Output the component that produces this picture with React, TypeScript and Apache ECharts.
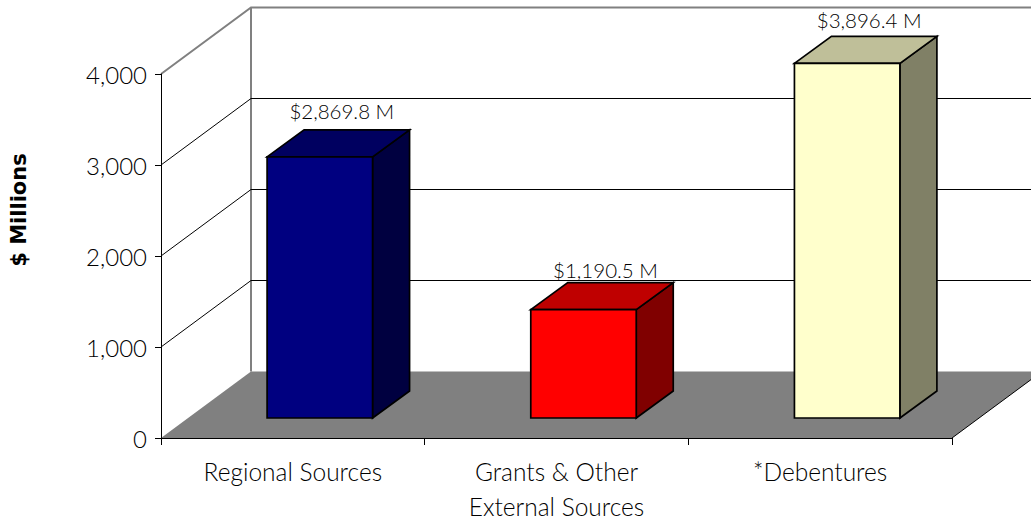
import React, { useEffect, useRef } from "react";
import * as echarts from "echarts";

const categories = ["Regional Sources", "Grants & Other\nExternal Sources", "*Debentures"];
const values = [2869.8, 1190.5, 3896.4];
const barLabels = ["$2,869.8 M", "$1,190.5 M", "$3,896.4 M"];
const frontColors = ["#000080", "#FF0000", "#FFFFCC"];
const topColors = ["#000060", "#BF0000", "#BFBF99"];
const sideColors = ["#000040", "#800000", "#808066"];
const labelLift = [19, 13, 16];
const wallTicks = [0, 1000, 2000, 3000, 4000];

const FONT = "Lato";
const DEPTH_X = 90;
const DEPTH_Y = 66.5;
const BAR_DX = 27;
const BAR_DY = 20;
const BAR_DEPTH_X = 37;
const BAR_DEPTH_Y = 27;
const BAR_RATIO = 0.4;

function renderWall(params: any, api: any) {
  const sys = params.coordSys;
  const left = sys.x;
  const right = sys.x + sys.width;
  const v = api.value(0);
  const y = api.coord([0, v])[1];
  const grey = "#808080";
  if (v === 0) {
    const y4000 = api.coord([0, 4000])[1];
    return {
      type: "group",
      children: [
        {
          type: "polygon",
          shape: { points: [[left, y], [left + DEPTH_X, y - DEPTH_Y], [right + DEPTH_X, y - DEPTH_Y], [right, y]] },
          style: { fill: grey, stroke: "none" },
        },
        {
          type: "line",
          shape: { x1: right, y1: y, x2: right + DEPTH_X, y2: y - DEPTH_Y },
          style: { stroke: "#000", lineWidth: 1 },
        },
        {
          type: "line",
          shape: { x1: left + DEPTH_X, y1: y - DEPTH_Y, x2: left + DEPTH_X, y2: y4000 - DEPTH_Y },
          style: { stroke: grey, lineWidth: 2 },
        },
      ],
    };
  }
  const isTop = v === 4000;
  return {
    type: "polyline",
    shape: { points: [[left, y], [left + DEPTH_X, y - DEPTH_Y], [right + DEPTH_X, y - DEPTH_Y]] },
    style: { stroke: isTop ? grey : "#000", lineWidth: isTop ? 2 : 1, fill: "none" },
  };
}

function renderBar(params: any, api: any) {
  const i = params.dataIndex;
  const v = api.value(1);
  const base = api.coord([i, 0]);
  const top = api.coord([i, v]);
  const w = api.size([1, 0])[0] * BAR_RATIO;
  const x0 = base[0] + BAR_DX - w / 2;
  const x1 = x0 + w;
  const yb = base[1] - BAR_DY;
  const yt = top[1] - BAR_DY;
  const dx = BAR_DEPTH_X;
  const dy = BAR_DEPTH_Y;
  const edge = { stroke: "#000", lineWidth: 1.7, lineJoin: "miter" };
  return {
    type: "group",
    children: [
      {
        type: "polygon",
        shape: { points: [[x1, yt], [x1 + dx, yt - dy], [x1 + dx, yb - dy], [x1, yb]] },
        style: { fill: sideColors[i], ...edge },
      },
      {
        type: "polygon",
        shape: { points: [[x0, yt], [x0 + dx, yt - dy], [x1 + dx, yt - dy], [x1, yt]] },
        style: { fill: topColors[i], ...edge },
      },
      {
        type: "polygon",
        shape: { points: [[x0, yt], [x1, yt], [x1, yb], [x0, yb]] },
        style: { fill: frontColors[i], ...edge },
      },
      {
        type: "text",
        style: {
          text: barLabels[i],
          x: (x0 + x1) / 2 + 22,
          y: yt - dy - labelLift[i],
          align: "center",
          verticalAlign: "middle",
          fontFamily: FONT,
          fontWeight: 300,
          fontSize: 20.5,
          fill: "#000",
        },
      },
    ],
  };
}

export default function App() {
  const ref = useRef<HTMLDivElement>(null);
  useEffect(() => {
    document.body.style.margin = "0";
    const chart = echarts.init(ref.current!, undefined, { renderer: "svg" });
    chart.setOption({
      animation: false,
      backgroundColor: "#fff",
      grid: { left: 161, top: 74, width: 791, height: 364, containLabel: false, outerBoundsMode: "none" },
      xAxis: {
        type: "category",
        data: categories,
        z: 10,
        axisLine: { lineStyle: { color: "#000", width: 1 } },
        axisTick: { show: true, length: 7, lineStyle: { color: "#000" } },
        axisLabel: {
          fontFamily: FONT,
          fontWeight: 300,
          fontSize: 24.5,
          color: "#000",
          lineHeight: 35,
          margin: 16,
          interval: 0,
        },
      },
      yAxis: {
        type: "value",
        min: 0,
        max: 4000,
        interval: 1000,
        z: 10,
        name: "$ Millions",
        nameLocation: "middle",
        nameRotate: 90,
        nameGap: 132,
        nameTextStyle: {
          fontFamily: "DejaVu Sans",
          fontWeight: "bold",
          fontSize: 21,
          color: "#000",
          padding: [0, 0, 0, 92],
        },
        axisLine: { show: true, lineStyle: { color: "#000", width: 1 } },
        axisTick: { show: true, length: 6, lineStyle: { color: "#000" } },
        splitLine: { show: false },
        axisLabel: {
          fontFamily: FONT,
          fontWeight: 300,
          fontSize: 24,
          color: "#000",
          margin: 14,
          formatter: (v: number) => v.toLocaleString("en-US"),
        },
      },
      series: [
        {
          type: "custom",
          name: "walls",
          z: 1,
          clip: false,
          silent: true,
          coordinateSystem: "cartesian2d",
          data: wallTicks.map((v) => [v]),
          encode: { y: 0 },
          renderItem: renderWall,
        },
        {
          type: "custom",
          name: "bars",
          z: 3,
          clip: false,
          coordinateSystem: "cartesian2d",
          data: values.map((v, i) => [i, v]),
          encode: { x: 0, y: 1 },
          renderItem: renderBar,
        },
      ],
    });
    return () => chart.dispose();
  }, []);
  return <div ref={ref} style={{ width: 1031, height: 521 }} />;
}
